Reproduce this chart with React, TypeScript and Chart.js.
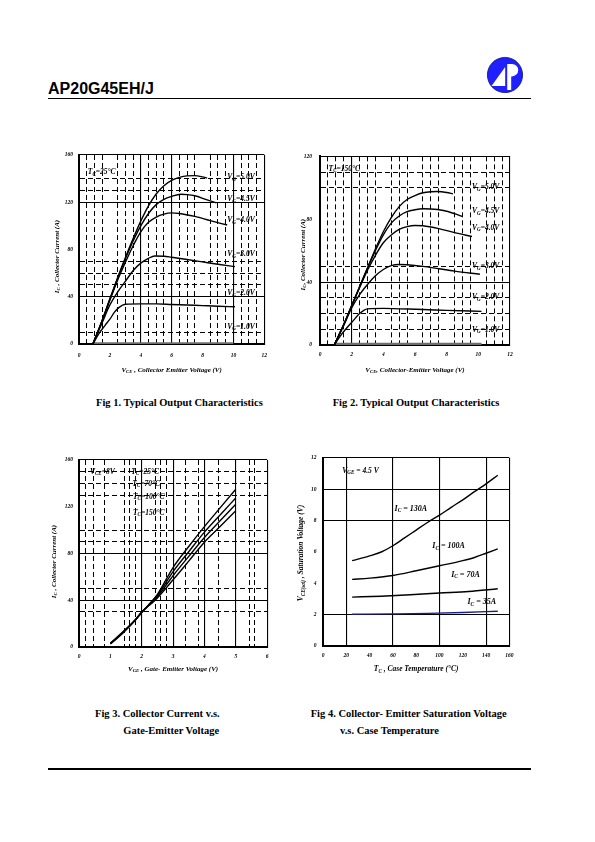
import React, { useEffect, useRef } from "react";
import { Chart, registerables } from "chart.js";
Chart.register(...registerables);

// ------------------------------------------------------------------ data
// Fig 1 : Tc = 25 °C   (Vce [V], Ic [A])
const fig1XTicks = [0, 2, 4, 6, 8, 10, 12];
const fig1YTicks = [0, 40, 80, 120, 160];
const fig1Vg50 = [[0.9, 0], [1.5, 20], [2, 38], [2.5, 56], [3, 73], [3.5, 89], [4, 104], [4.5, 117], [5, 127], [5.5, 134], [6, 138.5], [6.5, 141], [7, 142.3], [7.5, 142.5], [8, 141.5], [8.3, 140.5]];
const fig1Vg45 = [[0.9, 0], [1.5, 20], [2, 38], [2.5, 55.5], [3, 72], [3.5, 87], [4, 100], [4.5, 110.5], [5, 118], [5.5, 122.5], [6, 125], [6.6, 126.8], [7, 126.5], [7.5, 125.5], [8.2, 122.5], [8.9, 119.5]];
const fig1Vg40 = [[0.9, 0], [1.5, 19.5], [2, 37], [2.5, 54], [3, 69], [3.5, 83], [4, 95], [4.5, 103], [5, 107.5], [5.5, 110], [6, 111], [6.5, 110.5], [7.5, 108], [8.5, 104.5], [9.6, 100.7]];
const fig1Vg30 = [[0.9, 0], [1.5, 18], [2, 33], [2.5, 44], [3, 53], [3.5, 62], [4, 68.5], [4.5, 72.5], [4.9, 74.5], [5.5, 74.3], [6, 73.4], [7, 71.5], [8, 69.5], [9, 67.5], [10.1, 65.5]];
const fig1Vg20 = [[0.9, 0], [1.3, 9], [1.7, 16], [2, 21], [2.3, 27], [2.6, 31], [3, 33.6], [4, 34], [5, 34], [6, 33.5], [7, 33], [8, 32.5], [9, 32], [10.1, 31.5]];
const fig1Vg10 = [[0.9, 0.4], [10, 0.4]];
const fig1GateLabels = ["5.0V", "4.5V", "4.0V", "3.0V", "2.0V", "1.0V"];

// Fig 2 : Tc = 150 °C
const fig2XTicks = [0, 2, 4, 6, 8, 10, 12];
const fig2YTicks = [0, 40, 80, 120];
const fig2Vg50 = [[0.9, 0], [1.5, 13], [2, 25], [2.5, 37], [3, 49], [3.5, 61], [4, 72], [4.5, 81], [5, 88], [5.5, 92.5], [6, 95], [6.5, 96.8], [7, 97.5], [7.4, 97.6], [8, 97], [8.4, 96.1]];
const fig2Vg45 = [[0.9, 0], [1.5, 13], [2, 25], [2.5, 37], [3, 49], [3.5, 60], [4, 70], [4.5, 77.5], [5, 82], [5.5, 84.8], [6, 86], [6.5, 86.6], [7, 86.5], [7.8, 85.5], [8.5, 83.5], [9, 81.7]];
const fig2Vg40 = [[0.9, 0], [1.5, 13], [2, 25], [2.5, 36.5], [3, 47.5], [3.5, 57], [4, 65], [4.5, 70], [5, 73.5], [5.5, 75.3], [6, 76], [6.5, 75.8], [7.5, 74], [8.5, 71.5], [9.6, 69]];
const fig2Vg30 = [[0.9, 0], [1.5, 12.5], [2, 23.5], [2.5, 32], [3, 38.5], [3.5, 44], [4, 48], [4.5, 50.5], [5, 51.2], [5.5, 51], [6.5, 50], [7.5, 48.5], [8.5, 47], [10.1, 45]];
const fig2Vg20 = [[0.9, 0], [1.3, 6], [1.7, 11], [2.1, 15.5], [2.5, 20], [3, 23], [4, 23.3], [5, 23], [6.5, 22.6], [8, 22], [10.2, 21.4]];
const fig2Vg10 = [[0.9, 0.6], [10.2, 0.6]];
const fig2GateLabels = ["5.0V", "4.5V", "4.0V", "3.0V", "2.0V", "1.0V"];

// Fig 3 : Vce = 8 V   (Vge [V], Ic [A])
const fig3XTicks = [0, 1, 2, 3, 4, 5, 6];
const fig3YTicks = [0, 40, 80, 120, 160];
const fig3Tc25 = [[1, 2.6], [1.4, 12], [1.8, 23], [2, 29.5], [2.3, 38.5], [2.5, 45], [3, 68], [3.5, 86], [4, 103], [4.5, 119], [5, 135]];
const fig3Tc70 = [[1, 2.8], [1.4, 12.2], [1.8, 23], [2, 29.5], [2.3, 38], [2.5, 44], [3, 64.5], [3.5, 81.5], [4, 98.3], [4.5, 113], [5, 127.5]];
const fig3Tc100 = [[1, 3], [1.4, 12.5], [1.8, 23.3], [2, 29.7], [2.3, 37.5], [2.5, 43], [3, 61], [3.5, 77.5], [4, 93.7], [4.5, 108], [5, 122.2]];
const fig3Tc150 = [[1, 3.3], [1.4, 13], [1.8, 23.6], [2, 30], [2.3, 37], [2.5, 42], [3, 57.5], [3.5, 73.5], [4, 89.7], [4.5, 103], [5, 116.5]];
const fig3TempLabels = ["25°C", "70°C", "100°C", "150°C"];

// Fig 4 : Vge = 4.5 V   (Tc [°C], Vce(sat) [V])
const fig4XTicks = [0, 20, 40, 60, 80, 100, 120, 140, 160];
const fig4YTicks = [0, 2, 4, 6, 8, 10, 12];
const fig4Ic130 = [[25, 5.45], [40, 5.75], [50, 6.0], [60, 6.4], [70, 6.9], [80, 7.4], [90, 7.9], [100, 8.35], [110, 8.85], [120, 9.33], [130, 9.85], [140, 10.35], [150, 10.9]];
const fig4Ic100 = [[25, 4.25], [40, 4.33], [60, 4.5], [80, 4.8], [100, 5.12], [120, 5.45], [130, 5.65], [140, 5.92], [150, 6.2]];
const fig4Ic70 = [[25, 3.12], [50, 3.18], [75, 3.27], [100, 3.38], [125, 3.48], [150, 3.65]];
const fig4Ic35 = [[25, 2.03], [60, 2.05], [90, 2.08], [120, 2.14], [150, 2.22]];
const fig4CurrentLabels = ["130A", "100A", "70A", "35A"];

// grid-line positions (axis units)
const halfGrid12 = [0.5, 1, 1.5, 2.5, 3, 3.5, 4.5, 5, 5.5, 6.5, 7, 7.5, 8.5, 9, 9.5, 10.5, 11, 11.5];
const fig3XGrid = [0.2, 0.45, 0.8, 1.45, 1.6, 1.8, 2.45, 2.6, 2.8, 3.4, 3.8, 4.45, 5.45, 5.6];

// ------------------------------------------------------------------ drawing helpers
const SERIF = '"Liberation Serif", "Times New Roman", Times, serif';
const SANS = '"Liberation Sans", Arial, Helvetica, sans-serif';

type Part = [string, boolean];
type Ann = { x: number; y: number; parts: Part[]; size: number; weight: string };
type AxisSpec = { min: number; max: number; labels: number[]; solid: number[]; dashed: number[]; pad: number };
type Series = { pts: number[][]; color: string; width: number };
type Spec = {
  box: { left: number; top: number; w: number; h: number };
  padTop: number; padRight: number; yW: number; xH: number;
  x: AxisSpec; y: AxisSpec;
  series: Series[];
  anns: Ann[];
  xTitle: Part[]; yTitle: Part[];
  xTitleOff: number; yTitleOff: number; yTitleShift: number; titleSize: number;
};

const near = (arr: number[], v: number) => arr.some((a) => Math.abs(a - v) < 1e-6);

function drawParts(ctx: CanvasRenderingContext2D, parts: Part[], x: number, y: number, size: number, weight: string, align: "left" | "center") {
  const subSize = size * 0.68;
  const f = (s: number) => `italic ${weight} ${s}px ${SERIF}`;
  let total = 0;
  const widths = parts.map(([t, sub]) => {
    ctx.font = f(sub ? subSize : size);
    const w = ctx.measureText(t).width;
    total += w;
    return w;
  });
  let cx = align === "center" ? x - total / 2 : x;
  ctx.textBaseline = "middle";
  ctx.textAlign = "left";
  ctx.fillStyle = "#000";
  parts.forEach(([t, sub], i) => {
    ctx.font = f(sub ? subSize : size);
    ctx.fillText(t, cx, sub ? y + size * 0.3 : y);
    cx += widths[i];
  });
}

function axisOptions(a: AxisSpec, isX: boolean, fixed: number) {
  const all = Array.from(new Set([a.min, a.max, ...a.labels, ...a.solid, ...a.dashed])).sort((p, q) => p - q);
  return {
    type: "linear",
    min: a.min,
    max: a.max,
    afterBuildTicks: (scale: any) => {
      scale.ticks = all.map((v) => ({ value: v }));
    },
    afterFit: (scale: any) => {
      if (isX) scale.height = fixed;
      else scale.width = fixed;
    },
    ticks: {
      autoSkip: false,
      maxRotation: 0,
      padding: a.pad,
      color: "#000",
      font: { family: SERIF, size: 5.5, style: "italic", weight: "bold" },
      callback: (v: any) => (near(a.labels, Number(v)) ? String(v) : ""),
    },
    grid: {
      drawTicks: false,
      color: (c: any) => {
        const v = c.tick?.value;
        if (v === undefined) return "#000";
        return near(a.solid, v) || near(a.dashed, v) ? "#000" : "rgba(0,0,0,0)";
      },
      lineWidth: (c: any) => {
        const v = c.tick?.value;
        if (v === undefined) return 1;
        return near(a.dashed, v) ? 1 : 1.1;
      },
    },
    border: {
      display: true,
      color: "#000",
      width: 2,
      dash: (c: any) => {
        const v = c.tick?.value;
        return v !== undefined && near(a.dashed, v) ? [5, 3] : [];
      },
    },
  };
}

function textPlugin(spec: Spec) {
  return {
    id: "texts",
    afterDatasetsDraw(chart: any) {
      const { ctx, chartArea: a, scales } = chart;
      ctx.save();
      for (const n of spec.anns) {
        drawParts(ctx, n.parts, scales.x.getPixelForValue(n.x), scales.y.getPixelForValue(n.y), n.size, n.weight, "left");
      }
      drawParts(ctx, spec.xTitle, (a.left + a.right) / 2, a.bottom + spec.xTitleOff, spec.titleSize, "bold", "center");
      ctx.translate(a.left - spec.yTitleOff, (a.top + a.bottom) / 2 + spec.yTitleShift);
      ctx.rotate(-Math.PI / 2);
      drawParts(ctx, spec.yTitle, 0, 0, spec.titleSize, "bold", "center");
      ctx.restore();
    },
  };
}

function ChartCanvas({ spec }: { spec: Spec }) {
  const ref = useRef<HTMLCanvasElement>(null);
  useEffect(() => {
    const chart = new Chart(ref.current as HTMLCanvasElement, {
      type: "line",
      data: {
        datasets: spec.series.map((s) => ({
          data: s.pts.map(([x, y]) => ({ x, y })),
          borderColor: s.color,
          borderWidth: s.width,
          pointRadius: 0,
          fill: false,
          cubicInterpolationMode: "monotone",
          tension: 0.4,
        })),
      },
      options: {
        responsive: false,
        animation: false,
        devicePixelRatio: 1,
        events: [],
        layout: { padding: { top: spec.padTop, right: spec.padRight, left: 0, bottom: 0 } },
        plugins: { legend: { display: false }, tooltip: { enabled: false }, title: { display: false } },
        scales: { x: axisOptions(spec.x, true, spec.xH), y: axisOptions(spec.y, false, spec.yW) },
      } as any,
      plugins: [textPlugin(spec)],
    } as any);
    return () => chart.destroy();
  }, [spec]);
  return (
    <canvas
      ref={ref}
      width={spec.box.w}
      height={spec.box.h}
      style={{ position: "absolute", left: spec.box.left, top: spec.box.top }}
    />
  );
}

// ------------------------------------------------------------------ chart specs
const sub = (a: string, b: string, c: string): Part[] => [[a, false], [b, true], [c, false]];
const BLACK = "#000";
const line = (pts: number[][], color = BLACK, width = 1.4): Series => ({ pts, color, width });

const fig1GateY = [141.4, 122.8, 105, 76.2, 42.9, 14.6];
const fig2GateY = [100.3, 84.9, 74.5, 50, 30.5, 9.8];
const fig3TempY = [150, 139.6, 128.5, 114.8];
const fig3TempX = [1.67, 1.7, 1.72, 1.72];
const fig4LabelPos = [[61.4, 8.77], [93.8, 6.37], [110, 4.56], [124, 2.82]];

const spec1: Spec = {
  box: { left: 30, top: 145, w: 245, h: 235 },
  padTop: 10, padRight: 5, yW: 49, xH: 36,
  x: { min: 0, max: 12, labels: fig1XTicks, solid: [4, 6, 10, 12], dashed: halfGrid12, pad: 8 },
  y: { min: 0, max: 160, labels: fig1YTicks, solid: [40, 120, 160], dashed: [10, 50, 60, 70, 130, 140], pad: 6 },
  series: [line(fig1Vg50), line(fig1Vg45), line(fig1Vg40), line(fig1Vg30), line(fig1Vg20), line(fig1Vg10, "#6e6e6e", 2.5)],
  anns: [
    { x: 0.57, y: 145.6, parts: sub("T", "C", "=25°C"), size: 7.5, weight: "bold" },
    ...fig1GateLabels.map((g, i) => ({ x: 9.61, y: fig1GateY[i], parts: sub("V", "G", "=" + g), size: 7.5, weight: "bold" })),
  ],
  xTitle: sub("V", "CE", " , Collector Emitter Voltage (V)"),
  yTitle: sub("I", "C", " , Collector Current (A)"),
  xTitleOff: 26, yTitleOff: 22, yTitleShift: 7, titleSize: 7,
};

const spec2: Spec = {
  box: { left: 275, top: 145, w: 245, h: 236 },
  padTop: 11, padRight: 10, yW: 45, xH: 36,
  x: { min: 0, max: 12, labels: fig2XTicks, solid: [2, 12], dashed: halfGrid12, pad: 6 },
  y: { min: 0, max: 120, labels: fig2YTicks, solid: [40, 120], dashed: [10, 20, 30, 50, 100, 110], pad: 8 },
  series: [line(fig2Vg50), line(fig2Vg45), line(fig2Vg40), line(fig2Vg30), line(fig2Vg20), line(fig2Vg10, "#6e6e6e", 2.5)],
  anns: [
    { x: 0.54, y: 112.2, parts: sub("T", "C", "=150°C"), size: 7.5, weight: "bold" },
    ...fig2GateLabels.map((g, i) => ({ x: 9.6, y: fig2GateY[i], parts: sub("V", "G", "=" + g), size: 7.5, weight: "bold" })),
  ],
  xTitle: sub("V", "CE", ", Collector-Emitter Voltage (V)"),
  yTitle: sub("I", "C", ", Collector Current (A)"),
  xTitleOff: 25, yTitleOff: 17, yTitleShift: 4, titleSize: 7,
};

const spec3: Spec = {
  box: { left: 30, top: 450, w: 245, h: 233 },
  padTop: 10, padRight: 5, yW: 49, xH: 36,
  x: { min: 0, max: 6, labels: fig3XTicks, solid: [2, 3, 4, 5, 6], dashed: fig3XGrid, pad: 6.5 },
  y: { min: 0, max: 160, labels: fig3YTicks, solid: [40, 80, 160], dashed: [30, 50, 90, 100, 130, 140, 150], pad: 6 },
  series: [line(fig3Tc25), line(fig3Tc70), line(fig3Tc100), line(fig3Tc150)],
  anns: [
    { x: 0.35, y: 150, parts: sub("V", "CE", "=8V"), size: 7.5, weight: "bold" },
    ...fig3TempLabels.map((t, i) => ({ x: fig3TempX[i], y: fig3TempY[i], parts: sub("T", "C", "=" + t), size: 7.5, weight: "bold" })),
  ],
  xTitle: sub("V", "GE", " , Gate- Emitter Voltage (V)"),
  yTitle: sub("I", "C", " , Collector Current (A)"),
  xTitleOff: 22, yTitleOff: 25, yTitleShift: 8, titleSize: 7,
};

const spec4: Spec = {
  box: { left: 275, top: 448, w: 245, h: 234 },
  padTop: 10, padRight: 10, yW: 48, xH: 36,
  x: { min: 0, max: 160, labels: fig4XTicks, solid: [20, 60, 100, 140, 160], dashed: [], pad: 6.5 },
  y: { min: 0, max: 12, labels: fig4YTicks, solid: [2, 8, 10, 12], dashed: [], pad: 6.5 },
  series: [line(fig4Ic130), line(fig4Ic100), line(fig4Ic70), line(fig4Ic35, "#1c1c8c", 1.4)],
  anns: [
    { x: 16.6, y: 11.18, parts: sub("V", "GE", " = 4.5 V"), size: 7.5, weight: "bold" },
    ...fig4CurrentLabels.map((c, i) => ({ x: fig4LabelPos[i][0], y: fig4LabelPos[i][1], parts: sub("I", "C", " = " + c), size: 8, weight: "bold" })),
  ],
  xTitle: sub("T", "C", " , Case Temperature (°C)"),
  yTitle: sub("V", "CE(sat)", " , Saturation Voltage (V)"),
  xTitleOff: 23, yTitleOff: 22, yTitleShift: 1, titleSize: 7.5,
};

const specs = [spec1, spec2, spec3, spec4];

// ------------------------------------------------------------------ page
function Txt({ x, cy, size, family = SERIF, weight = "bold", children }: any) {
  return (
    <div
      style={{
        position: "absolute",
        left: x,
        top: cy - size * 0.55,
        fontFamily: family,
        fontSize: size,
        fontWeight: weight,
        lineHeight: 1,
        whiteSpace: "nowrap",
        color: "#000",
      }}
    >
      {children}
    </div>
  );
}

function Logo() {
  return (
    <svg width={38} height={38} viewBox="-19 -19 38 38" style={{ position: "absolute", left: 485.5, top: 55.5 }}>
      <circle r={17.6} fill="#1f1fff" stroke="#10106a" strokeWidth={0.8} />
      <polygon points="-13.5,11 0.2,-8 0.2,11" fill="#fff" />
      <path d="M2.2,-11 H7 A6.2,6.2 0 0 1 7,1.4 H6.2 V15 H2.2 Z" fill="#fff" />
    </svg>
  );
}

export default function App() {
  return (
    <div style={{ position: "absolute", left: 0, top: 0, width: 595, height: 842, background: "#fff", overflow: "hidden" }}>
      <div
        style={{
          position: "absolute",
          left: 48,
          top: 80.5,
          fontFamily: SANS,
          fontWeight: "bold",
          fontSize: 16,
          lineHeight: 1,
          whiteSpace: "nowrap",
        }}
      >
        AP20G45EH/J
      </div>
      <Logo />
      <div style={{ position: "absolute", left: 48, top: 97.5, width: 483, height: 1.4, background: "#000" }} />
      {specs.map((s, i) => (
        <ChartCanvas key={i} spec={s} />
      ))}
      <Txt x={96} cy={403.5} size={10.5}>Fig 1. Typical Output Characteristics</Txt>
      <Txt x={332.7} cy={403.5} size={10.5}>Fig 2. Typical Output Characteristics</Txt>
      <Txt x={95} cy={715} size={10.5}>Fig 3. Collector Current v.s.</Txt>
      <Txt x={123.3} cy={731.7} size={10.5}>Gate-Emitter Voltage</Txt>
      <Txt x={310.7} cy={715} size={10.5}>Fig 4. Collector- Emitter Saturation Voltage</Txt>
      <Txt x={340} cy={731.7} size={10.5}>v.s. Case Temperature</Txt>
      <div style={{ position: "absolute", left: 48, top: 768.3, width: 483, height: 1.5, background: "#000" }} />
    </div>
  );
}
